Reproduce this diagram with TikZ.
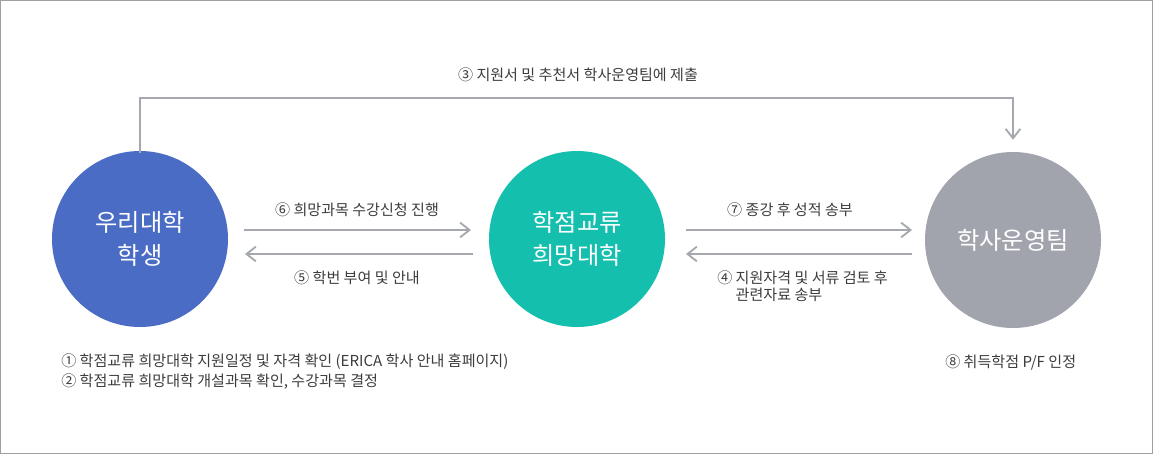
\documentclass[tikz,border=0pt]{standalone}
\usepackage{fontspec}
\setmainfont{Noto Sans CJK KR}
\usetikzlibrary{arrows.meta}
% colours
\definecolor{r74g108b196}{RGB}{74,108,196}
\definecolor{r20g191b174}{RGB}{20,191,174}
\definecolor{r162g164b173}{RGB}{162,164,173}
\definecolor{r166g168b175}{RGB}{166,168,175}
\definecolor{r60g60b60}{RGB}{60,60,60}
\definecolor{r160g160b160}{RGB}{160,160,160}
\begin{document}
\begin{tikzpicture}[x=0.75pt,y=-0.75pt,
    party/.style={circle,minimum size=132pt,inner sep=0pt,text=white,align=center,
      font=\fontsize{18.2}{24.75}\selectfont},
    flow/.style={draw=r166g168b175,line width=1.4pt,
      -{Straight Barb[length=7pt,width=11pt,line width=1.4pt]}},
    note/.style={inner sep=0pt,text=r60g60b60,font=\fontsize{11.3}{15}\selectfont}]
            \useasboundingbox (0,0) rectangle (1153,454);
            % Drawing frame
            \draw [r160g160b160,line width=0.75pt] (0.5,0.5) rectangle (1152.5,453.5);%

            % Drawing circles
            \node [party,fill=r74g108b196] (student) at (140,239) {우리대학\\학생};%
            \node [party,fill=r20g191b174] (host) at (577,239) {학점교류\\희망대학};%
            \node [party,fill=r162g164b173] (office) at (1013,240) {학사운영팀};%

            % Marking arrow ends
            \coordinate (sh1) at (244,230); \coordinate (hs1) at (471,230);%
            \coordinate (sh2) at (245,254); \coordinate (hs2) at (473,254);%
            \coordinate (ho1) at (686,230); \coordinate (oh1) at (912,230);%
            \coordinate (ho2) at (686,254); \coordinate (oh2) at (912,254);%
            \coordinate (top) at (577,98);%

            % Drawing arrows
            \draw [flow,shorten <=-2pt,shorten >=9pt] (student.north) |- (top) -| (office.north);%
            \draw [flow] (sh1) -- (hs1);%
            \draw [flow] (hs2) -- (sh2);%
            \draw [flow] (ho1) -- (oh1);%
            \draw [flow] (oh2) -- (ho2);%

            % Marking labels
            \node [note] (submit) at (578,75) {③ 지원서 및 추천서 학사운영팀에 제출};%
            \node [note] (enrol) at (357,210) {⑥ 희망과목 수강신청 진행};%
            \node [note] (number) at (357,278) {⑤ 학번 부여 및 안내};%
            \node [note] (grade) at (790,210) {⑦ 종강 후 성적 송부};%
            \node [note,anchor=west,align=left,font=\fontsize{11.3}{12.9}\selectfont]
              (review) at (717,286.5) {④ 지원자격 및 서류 검토 후\\\phantom{④ }관련자료 송부};%
            \node [note,anchor=west,align=left] (steps) at (61,372)
              {① 학점교류 희망대학 지원일정 및 자격 확인 (ERICA 학사 안내 홈페이지)\\
               ② 학점교류 희망대학 개설과목 확인, 수강과목 결정};%
            \node [note,anchor=west] (credit) at (945,362) {⑧ 취득학점 P/F 인정};%
\end{tikzpicture}
\end{document}
